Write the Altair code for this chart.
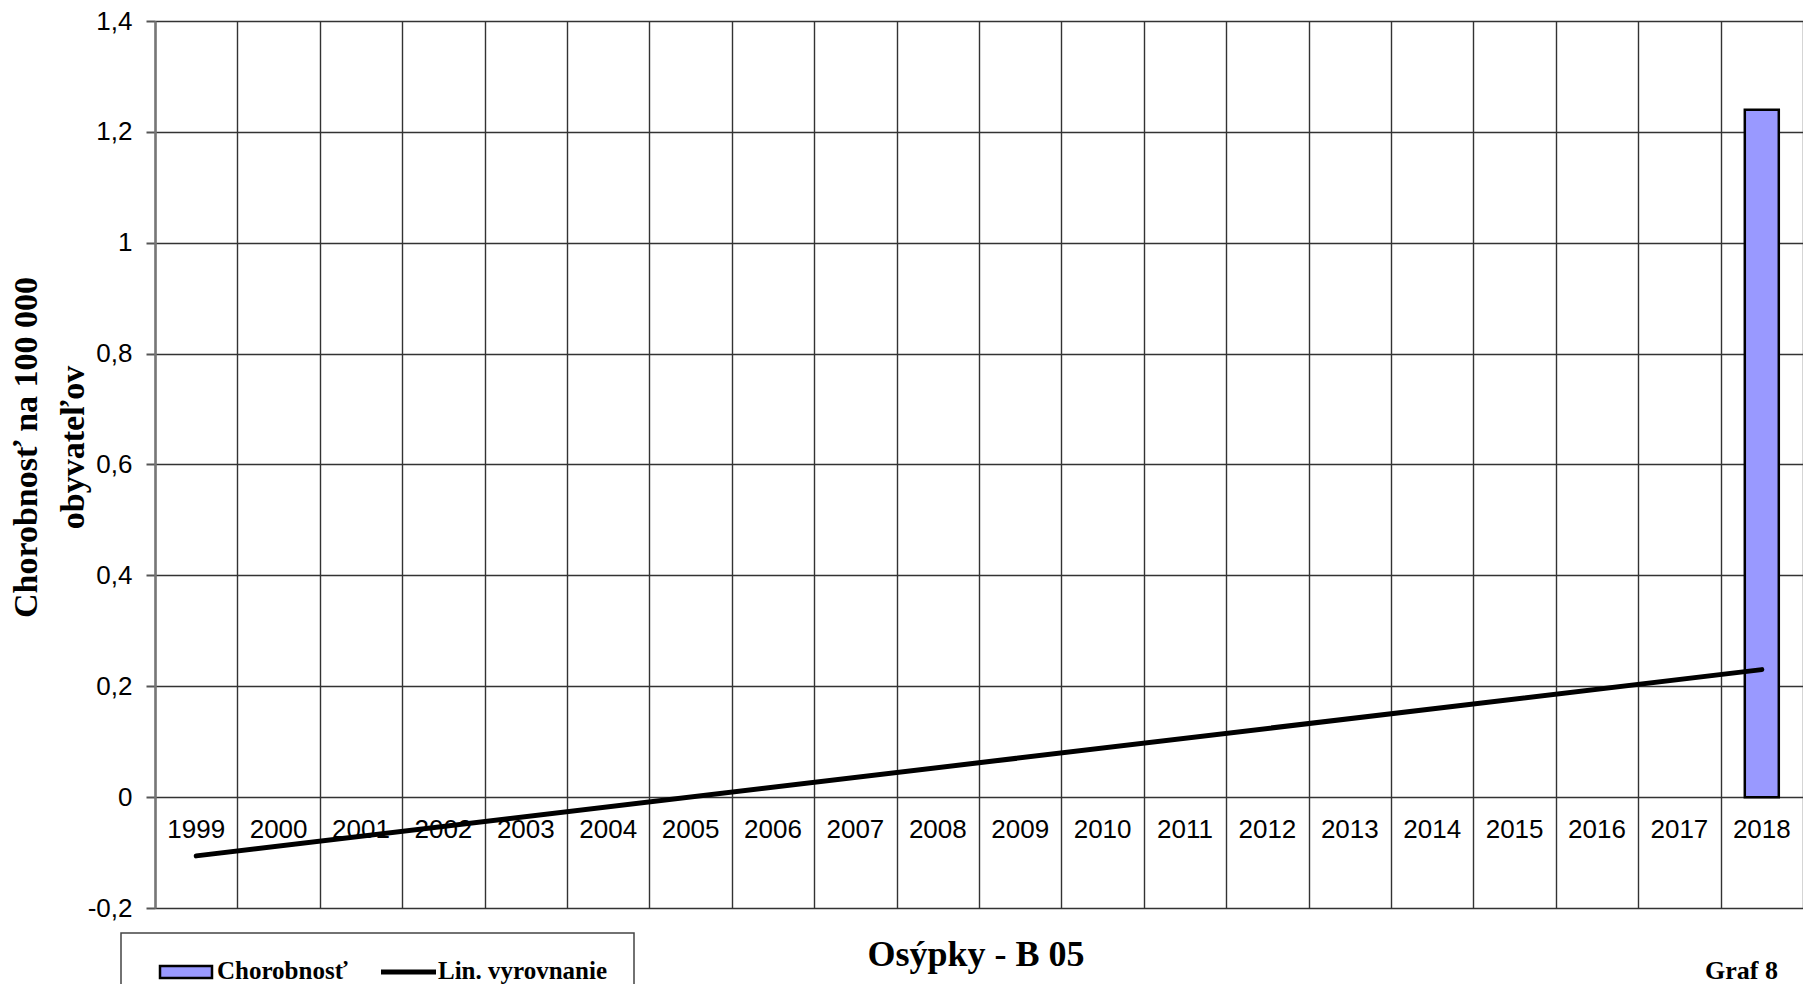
import altair as alt
import pandas as pd

years = ["1999", "2000", "2001", "2002", "2003", "2004", "2005", "2006", "2007", "2008",
         "2009", "2010", "2011", "2012", "2013", "2014", "2015", "2016", "2017", "2018"]
rates = [0, 0, 0, 0, 0, 0, 0, 0, 0, 0,
         0, 0, 0, 0, 0, 0, 0, 0, 0, 1.24]
trend_years = ["1999", "2018"]
trend_values = [-0.106, 0.230]
y_ticks = [-0.2, 0, 0.2, 0.4, 0.6, 0.8, 1, 1.2, 1.4]

W, H = 1648, 887
SERIF = "Liberation Serif"
SANS = "Liberation Sans"

bars_df = pd.DataFrame({"year": years, "rate": rates})
trend_df = pd.DataFrame({"year": trend_years, "value": trend_values})

xscale = alt.Scale(domain=years, paddingInner=0, paddingOuter=0)
yscale = alt.Scale(domain=[-0.2, 1.4], nice=False, zero=False)

y_axis = alt.Axis(
    values=y_ticks,
    labelExpr="replace(datum.value + '', '.', ',')",
    labelFont=SANS, labelFontSize=26, labelColor="black", labelPadding=14,
    tickSize=9, tickColor="#555", tickWidth=2,
    domainColor="#777", domainWidth=2.5,
    grid=True, gridColor="#333", gridWidth=1.4,
    title=["Chorobnosť na 100 000", "obyvateľov"],
    titleFont=SERIF, titleFontSize=34, titleFontWeight="bold", titleColor="black",
    titleAngle=270, titleAlign="center", titleBaseline="alphabetic",
    titleX=-119, titleY=426, titleLineHeight=47,
)

grid_x_axis = alt.Axis(
    orient="bottom", labels=False, ticks=False, domain=False, title=None,
    grid=True, gridColor="#333", gridWidth=1.4, tickBand="extent",
)

label_x_axis = alt.Axis(
    orient="bottom", offset=-(H * 0.2 / 1.6), ticks=False, domain=False, grid=False,
    title=None, labelAngle=0, labelFont=SANS, labelFontSize=26, labelColor="black",
    labelBaseline="alphabetic", labelPadding=40,
)

bars = alt.Chart(bars_df).transform_filter("datum.rate > 0").mark_bar(
    size=34, fill="#9999FF", stroke="black", strokeWidth=2.5
).encode(
    x=alt.X("year:N", scale=xscale, axis=grid_x_axis, sort=years),
    y=alt.Y("rate:Q", scale=yscale, axis=y_axis),
)

trend = alt.Chart(trend_df).mark_line(color="black", strokeWidth=5, strokeCap="round").encode(
    x=alt.X("year:N", scale=xscale, axis=label_x_axis, sort=years),
    y=alt.Y("value:Q", scale=yscale),
)

# legend box and items (placed below the plot area)
legend_box = alt.Chart(pd.DataFrame({"k": [0]})).mark_rect(
    fill="white", stroke="#444", strokeWidth=1.5
).encode(x=alt.value(-34), x2=alt.value(479), y=alt.value(912), y2=alt.value(1000))

legend_swatch = alt.Chart(pd.DataFrame({"k": [0]})).mark_rect(
    fill="#9999FF", stroke="black", strokeWidth=2.5
).encode(x=alt.value(5), x2=alt.value(57), y=alt.value(945), y2=alt.value(957))

legend_line = alt.Chart(pd.DataFrame({"k": [0]})).mark_rule(
    color="black", strokeWidth=5
).encode(x=alt.value(226), x2=alt.value(281), y=alt.value(951))

legend_text1 = alt.Chart(pd.DataFrame({"t": ["Chorobnosť"]})).mark_text(
    font=SERIF, fontSize=25, fontWeight="bold", align="left", baseline="alphabetic", color="black"
).encode(x=alt.value(62), y=alt.value(958), text="t:N")

legend_text2 = alt.Chart(pd.DataFrame({"t": ["Lin. vyrovnanie"]})).mark_text(
    font=SERIF, fontSize=25, fontWeight="bold", align="left", baseline="alphabetic", color="black"
).encode(x=alt.value(283), y=alt.value(958), text="t:N")

title_text = alt.Chart(pd.DataFrame({"t": ["Osýpky - B 05"]})).mark_text(
    font=SERIF, fontSize=36, fontWeight="bold", align="center", baseline="alphabetic", color="black"
).encode(x=alt.value(821), y=alt.value(945), text="t:N")

graf_text = alt.Chart(pd.DataFrame({"t": ["Graf 8"]})).mark_text(
    font=SERIF, fontSize=26, fontWeight="bold", align="left", baseline="alphabetic", color="black"
).encode(x=alt.value(1550), y=alt.value(958), text="t:N")

chart = alt.layer(
    bars, trend, legend_box, legend_swatch, legend_line, legend_text1, legend_text2,
    title_text, graf_text,
).resolve_axis(x="independent").resolve_scale(x="shared").properties(
    width=W, height=H,
    autosize=alt.AutoSizeParams(type="none"),
    padding={"left": 147, "top": 13, "right": 0, "bottom": 76},
).configure_view(stroke="#808080", strokeWidth=2.5).configure(background="white")

chart.save("out.html", embed_options={"renderer": "svg", "actions": False})
